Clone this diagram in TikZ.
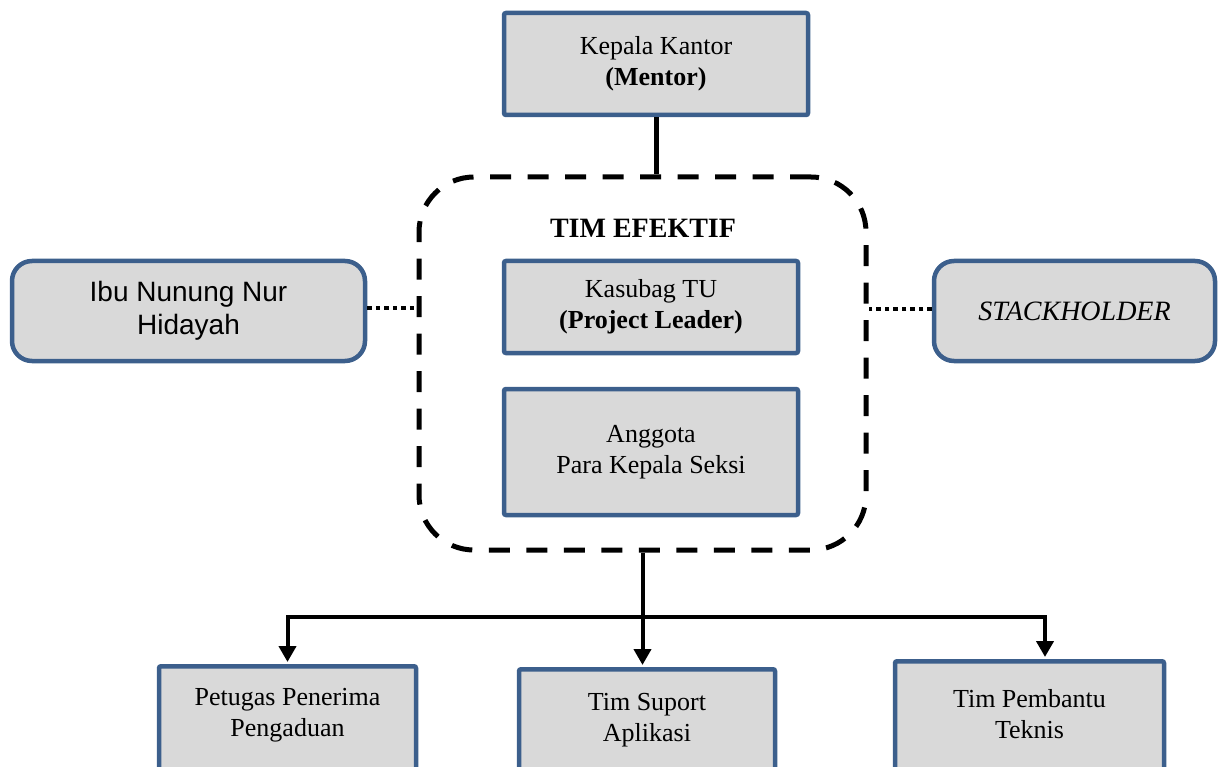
\documentclass[tikz,border=0pt]{standalone}
\usepackage{fontspec}
\setmainfont{Liberation Serif}
\newfontfamily\arialfont{Liberation Sans}
\usetikzlibrary{arrows.meta}
\definecolor{boxblue}{HTML}{3C5F8C}
\definecolor{boxgray}{HTML}{D9D9D9}
\tikzset{
  unitbox/.style={draw=boxblue, fill=boxgray, line width=4.5pt, rounded corners=2pt,
    align=center, inner sep=0pt, font=\fontsize{26}{31}\selectfont},
  sidebox/.style={unitbox, rounded corners=20pt},
  teambox/.style={draw=black, line width=5pt, dash pattern=on 21pt off 16.5pt,
    rounded corners=55pt, inner sep=0pt},
  labeltext/.style={align=center, inner sep=0pt, font=\fontsize{26}{31}\selectfont},
  conn/.style={draw=black, line width=4pt},
  arrowconn/.style={conn, -{Triangle[width=17pt,length=16pt]}, shorten >=2pt},
  dotline/.style={draw=black, line width=4pt, dash pattern=on 4.5pt off 4pt},
}
\begin{document}
\begin{tikzpicture}[x=1pt,y=-1pt]
\useasboundingbox (0,0) rectangle (1218,767);

% top: head of office
\node[unitbox, minimum width=304pt, minimum height=102pt] (kk) at (656,64)
  {Kepala Kantor\\\textbf{(Mentor)}};

% dashed team frame with its members
\node[teambox, minimum width=447pt, minimum height=373pt] (team) at (642.5,363.5) {};
\node[labeltext, font=\fontsize{28}{32}\selectfont\bfseries] (title) at (643,228) {TIM EFEKTIF};
\node[unitbox, minimum width=294pt, minimum height=92pt] (lead) at (651,307)
  {Kasubag TU\\\textbf{(Project Leader)}};
\node[unitbox, minimum width=294pt, minimum height=126pt] (members) at (651,452)
  {Anggota\\Para Kepala Seksi};

% side partners
\node[sidebox, minimum width=353pt, minimum height=100pt,
      font=\arialfont\fontsize{28}{33}\selectfont] (ibu) at (188.5,311)
  {Ibu Nunung Nur\\Hidayah};
\node[sidebox, minimum width=281pt, minimum height=100pt,
      font=\fontsize{28}{33}\selectfont\itshape] (stake) at (1074.5,311)
  {STACKHOLDER};

% bottom units (run past the lower edge)
\node[unitbox, minimum width=257pt, minimum height=140pt, anchor=north] (pet) at (287.5,664) {};
\node[labeltext] (pettext) at (287.5,715) {Petugas Penerima\\Pengaduan};
\node[unitbox, minimum width=256pt, minimum height=140pt, anchor=north] (sup) at (647,667) {};
\node[labeltext] (suptext) at (647,720) {Tim Suport\\Aplikasi};
\node[unitbox, minimum width=269pt, minimum height=140pt, anchor=north] (tpb) at (1029.5,659) {};
\node[labeltext] (tpbtext) at (1029.5,714.5) {Tim Pembantu\\Teknis};

% connectors
\draw[conn, line width=5pt] (kk.south) -- (kk.south |- team.north);
\draw[dotline] ([yshift=3pt]ibu.east) -- ([yshift=3pt]ibu.east -| team.west);
\draw[dotline] ([yshift=2pt]stake.west) -- ([yshift=2pt]stake.west -| team.east);

\coordinate (hub) at (643,617);
\coordinate (tpbin) at ([xshift=15.5pt]tpb.north);
\draw[arrowconn] (team.south) -- (team.south |- sup.north);
\draw[arrowconn] (hub) -| (pet.north);
\draw[arrowconn] (hub) -| (tpbin);
\end{tikzpicture}
\end{document}
